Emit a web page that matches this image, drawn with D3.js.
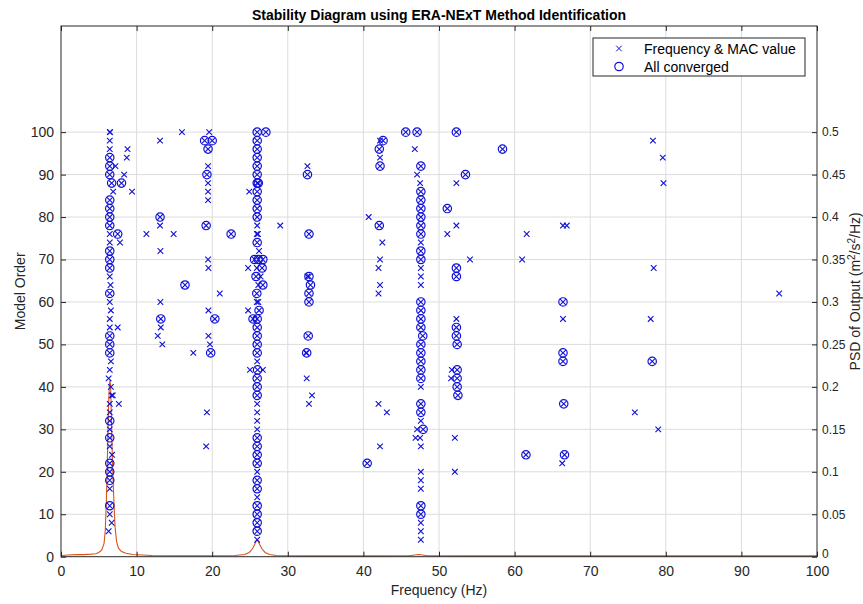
<!DOCTYPE html>
<html>
<head>
<meta charset="utf-8">
<script src="https://cdn.jsdelivr.net/npm/d3@7"></script>
<style>
  body { margin: 0; background: #fff; }
  text { font-family: "Liberation Sans", Arial, sans-serif; }
</style>
</head>
<body>
<div id="chart"></div>
<script>
// Chart text
const title = 'Stability Diagram using ERA-NExT Method Identification';
const xLabel = 'Frequency (Hz)';
const yLabel = 'Model Order';
const legendLabels = ['Frequency & MAC value', 'All converged'];

// Tick values
const xTicks = [0, 10, 20, 30, 40, 50, 60, 70, 80, 90, 100];
const orderTicks = [0, 10, 20, 30, 40, 50, 60, 70, 80, 90, 100];
const psdTicks = [0, 0.05, 0.1, 0.15, 0.2, 0.25, 0.3, 0.35, 0.4, 0.45, 0.5];

// Poles that only passed frequency & MAC check: [freq Hz, model order]
const macOnly = [
  [6.45, 100], [6.5, 100], [6.45, 98], [6.45, 96], [8.8, 96], [8.7, 94], [7.2, 92], [8.35, 90],
  [6.9, 86], [9.4, 86], [6.45, 76], [11.3, 76], [6.45, 74], [7.8, 74], [6.45, 66], [6.55, 64],
  [6.45, 60], [6.6, 58], [6.45, 56], [6.45, 54], [7.5, 54], [6.6, 46], [6.45, 44], [6.3, 42],
  [6.6, 40], [6.7, 38], [6.85, 38], [6.45, 36], [7.65, 36], [6.45, 34], [6.45, 30], [6.45, 26],
  [6.75, 24], [6.45, 16], [6.45, 10], [6.7, 8], [6.3, 6],
  [13.1, 98], [16.0, 100], [13.1, 78], [14.9, 76], [13.15, 72], [13.15, 60], [13.2, 54],
  [12.8, 52], [13.4, 50], [17.5, 48],
  [19.6, 100], [19.45, 92], [19.45, 88], [19.45, 86], [19.45, 84], [19.45, 70], [19.5, 68],
  [21.0, 62], [19.5, 58], [19.5, 52], [19.7, 50], [19.3, 34], [19.2, 26],
  [24.9, 86], [25.95, 78], [29.0, 78], [25.9, 76], [26.05, 76], [26.2, 72], [24.75, 68],
  [25.9, 68], [26.4, 66], [26.1, 64], [25.9, 60], [26.1, 60], [24.75, 58], [25.95, 46],
  [25.0, 44], [26.7, 44], [25.95, 36], [25.95, 34], [25.95, 32], [25.95, 30], [25.95, 20],
  [25.95, 14], [25.95, 4],
  [32.6, 92], [32.6, 66], [32.4, 48], [32.5, 42], [33.2, 38], [32.8, 36],
  [42.2, 98], [42.2, 94], [40.7, 80], [42.5, 74], [42.2, 70], [42.0, 68], [42.2, 64],
  [42.0, 62], [42.0, 36], [43.1, 34], [42.2, 26],
  [46.8, 96], [47.1, 90], [47.5, 88], [47.6, 74], [47.6, 68], [47.6, 66], [47.6, 64],
  [47.6, 40], [47.6, 32], [47.1, 30], [46.9, 28], [47.5, 28], [47.6, 26], [47.6, 20],
  [47.6, 18], [47.6, 16], [47.6, 8], [47.6, 6], [47.6, 4],
  [52.3, 88], [52.3, 78], [51.1, 76], [54.1, 70], [52.3, 56], [51.7, 44], [51.6, 42],
  [52.1, 28], [52.1, 20],
  [61.6, 76], [61.0, 70], [66.4, 78], [66.9, 78], [66.4, 56], [66.3, 22],
  [78.3, 98], [79.6, 94], [79.7, 88], [78.4, 68], [95.0, 62], [78.0, 56], [75.9, 34], [79.0, 30]
];

// Poles that passed all checks (circle, also drawn with x): [freq Hz, model order]
const converged = [
  [6.45, 94], [6.45, 92], [6.45, 90], [6.7, 88], [8.0, 88], [6.45, 84], [6.45, 82], [6.45, 80],
  [6.45, 78], [7.5, 76], [6.45, 72], [6.45, 70], [6.45, 68], [6.45, 62], [6.45, 52], [6.45, 50],
  [6.45, 48], [6.45, 32], [6.45, 28], [6.45, 22], [6.45, 20], [6.45, 18], [6.45, 12],
  [13.1, 80], [16.4, 64], [13.2, 56],
  [19.0, 98], [20.0, 98], [19.45, 96], [19.3, 90], [19.2, 78], [20.35, 56], [19.8, 48], [22.5, 76],
  [25.95, 100], [27.1, 100], [25.95, 98], [25.95, 96], [25.95, 94], [25.95, 92], [25.95, 90],
  [25.95, 88], [26.1, 88], [25.95, 86], [25.95, 84], [25.95, 82], [25.95, 80], [25.95, 74],
  [25.6, 70], [26.1, 70], [26.7, 70], [26.6, 68], [25.8, 66], [26.7, 64], [25.9, 62],
  [26.2, 58], [25.4, 56], [25.95, 56], [25.95, 54], [25.95, 52], [25.95, 50], [25.95, 48],
  [26.0, 44], [25.95, 42], [25.95, 40], [25.95, 38], [25.95, 28], [25.95, 26], [25.95, 24],
  [25.95, 22], [25.95, 18], [25.95, 16], [25.95, 12], [25.95, 10], [25.95, 8], [25.95, 6],
  [32.6, 90], [32.8, 76], [32.8, 66], [33.0, 64], [32.8, 62], [32.8, 60], [32.7, 52], [32.5, 48],
  [42.6, 98], [42.1, 96], [42.2, 92], [42.1, 78], [40.5, 22],
  [45.6, 100], [47.1, 100], [47.6, 92], [47.6, 86], [47.6, 84], [47.6, 82], [47.6, 80],
  [47.6, 78], [47.6, 76], [47.6, 72], [47.6, 70], [47.6, 60], [47.6, 58], [47.6, 56],
  [47.6, 54], [47.85, 52], [47.6, 50], [47.6, 48], [47.6, 46], [47.6, 44], [47.6, 42],
  [47.6, 36], [47.6, 34], [47.9, 30], [47.6, 12], [47.6, 10],
  [52.3, 100], [58.4, 96], [53.5, 90], [51.1, 82], [52.3, 68], [52.3, 66], [52.3, 54],
  [52.3, 52], [52.4, 50], [52.4, 44], [52.4, 42], [52.4, 40], [52.5, 38],
  [61.5, 24], [66.4, 60], [66.4, 48], [66.4, 46], [66.5, 36], [66.6, 24], [78.2, 46]
];

// PSD of output
const psdFreq = [0, 1, 2, 3, 4, 4.6, 5.0, 5.4, 5.7, 5.85, 6.0, 6.1, 6.2, 6.3, 6.4, 6.48, 6.56,
  6.65, 6.75, 6.85, 7.0, 7.15, 7.35, 7.6, 8.0, 8.6, 9.5, 12, 16, 20, 23, 24.3, 24.9, 25.3, 25.6,
  25.8, 25.95, 26.1, 26.3, 26.6, 27.0, 27.6, 28.5, 32, 40, 46, 47.3, 48.5, 55, 70, 85, 100];
const psdValue = [0.0015, 0.002, 0.0025, 0.0025, 0.003, 0.0035, 0.005, 0.008, 0.016, 0.03,
  0.065, 0.1, 0.14, 0.18, 0.202, 0.208, 0.2, 0.17, 0.13, 0.1, 0.065, 0.035, 0.018, 0.01, 0.006,
  0.004, 0.0025, 0.0015, 0.0012, 0.0012, 0.0015, 0.0025, 0.005, 0.009, 0.014, 0.018, 0.0195,
  0.018, 0.014, 0.009, 0.005, 0.0025, 0.0015, 0.001, 0.001, 0.0012, 0.0025, 0.0012, 0.001,
  0.001, 0.001, 0.001];

const width = 863;
const height = 604;
const margin = { top: 26, right: 46, bottom: 47.3, left: 61 };
const blue = '#1010d8';

const svg = d3.select('#chart').append('svg')
  .attr('width', width)
  .attr('height', height);

svg.append('rect').attr('width', width).attr('height', height).attr('fill', '#fff');

const xScale = d3.scaleLinear().domain([0, 100]).range([margin.left, width - margin.right]);
const yScale = d3.scaleLinear().domain([0, 125]).range([height - margin.bottom, margin.top]);
const psdScale = d3.scaleLinear().domain([0, 0.625]).range([height - margin.bottom, margin.top]);

const x0 = margin.left, x1 = width - margin.right;
const y0 = height - margin.bottom, y1 = margin.top;

// grid
svg.append('g').selectAll('line.vg')
  .data(xTicks.slice(1, -1)).enter().append('line')
  .attr('x1', d => xScale(d)).attr('x2', d => xScale(d))
  .attr('y1', y0).attr('y2', y1)
  .attr('stroke', '#dcdcdc').attr('stroke-width', 1);
svg.append('g').selectAll('line.hg')
  .data(orderTicks.slice(1)).enter().append('line')
  .attr('x1', x0).attr('x2', x1)
  .attr('y1', d => yScale(d)).attr('y2', d => yScale(d))
  .attr('stroke', '#dcdcdc').attr('stroke-width', 1);

// PSD curve (right axis)
const line = d3.line()
  .x((d, i) => xScale(psdFreq[i]))
  .y(d => psdScale(d));
svg.append('path')
  .datum(psdValue)
  .attr('d', line)
  .attr('fill', 'none')
  .attr('stroke', '#d95319')
  .attr('stroke-width', 1.1);

// markers
const xs = 2.8;
const xMarks = macOnly.concat(converged);
svg.append('g').selectAll('path.xm')
  .data(xMarks).enter().append('path')
  .attr('d', d => {
    const cx = xScale(d[0]), cy = yScale(d[1]);
    return `M${cx - xs},${cy - xs}L${cx + xs},${cy + xs}M${cx - xs},${cy + xs}L${cx + xs},${cy - xs}`;
  })
  .attr('stroke', blue).attr('stroke-width', 1.1).attr('fill', 'none');
svg.append('g').selectAll('circle')
  .data(converged).enter().append('circle')
  .attr('cx', d => xScale(d[0])).attr('cy', d => yScale(d[1]))
  .attr('r', 4.2)
  .attr('stroke', blue).attr('stroke-width', 1.2).attr('fill', 'none');

// axes
const fontSize = '14px';
const xAxis = svg.append('g')
  .attr('transform', `translate(0,${y0})`)
  .call(d3.axisBottom(xScale).tickValues(xTicks).tickSize(-5).tickPadding(9).tickFormat(d3.format('d')));
const xTop = svg.append('g')
  .attr('transform', `translate(0,${y1})`)
  .call(d3.axisTop(xScale).tickValues(xTicks).tickSize(-5).tickFormat(''));
const yAxis = svg.append('g')
  .attr('transform', `translate(${x0},0)`)
  .call(d3.axisLeft(yScale).tickValues(orderTicks).tickSize(-5).tickPadding(7).tickFormat(d3.format('d')));
const yRight = svg.append('g')
  .attr('transform', `translate(${x1},0)`)
  .call(d3.axisRight(psdScale).tickValues(psdTicks).tickSize(-5).tickPadding(5).tickFormat(d => d === 0 ? '0' : d3.format('~g')(d)));

[xAxis, xTop, yAxis, yRight].forEach(g => {
  g.select('.domain').remove();
  g.selectAll('line').attr('stroke', '#262626');
  g.selectAll('text').attr('fill', '#262626').style('font-size', fontSize)
    .style('font-family', '"Liberation Sans", Arial, sans-serif');
});
yRight.selectAll('text').style('font-size', '12px');
yRight.selectAll('.tick').filter(d => d === 0).select('text').attr('dy', '0.1em');

// box
svg.append('rect')
  .attr('x', x0).attr('y', y1)
  .attr('width', x1 - x0).attr('height', y0 - y1)
  .attr('fill', 'none').attr('stroke', '#262626').attr('stroke-width', 1);

// title and labels
svg.append('text')
  .attr('x', (x0 + x1) / 2).attr('y', 19.5)
  .attr('text-anchor', 'middle')
  .style('font-size', fontSize).style('font-weight', 'bold')
  .attr('fill', '#000')
  .text(title);

svg.append('text')
  .attr('x', (x0 + x1) / 2).attr('y', 595)
  .attr('text-anchor', 'middle')
  .style('font-size', fontSize).attr('fill', '#262626')
  .text(xLabel);

svg.append('text')
  .attr('transform', `translate(25,${(y0 + y1) / 2}) rotate(-90)`)
  .attr('text-anchor', 'middle')
  .style('font-size', fontSize).attr('fill', '#262626')
  .text(yLabel);

const rl = svg.append('text')
  .attr('transform', `translate(860,${(y0 + y1) / 2}) rotate(-90)`)
  .attr('text-anchor', 'middle')
  .style('font-size', fontSize).attr('fill', '#262626');
rl.append('tspan').text('PSD of Output (m');
rl.append('tspan').attr('dy', -5).style('font-size', '10px').text('2');
rl.append('tspan').attr('dy', 5).text('/s');
rl.append('tspan').attr('dy', -5).style('font-size', '10px').text('2');
rl.append('tspan').attr('dy', 5).text('/Hz)');

// legend
const lg = svg.append('g');
lg.append('rect')
  .attr('x', 593).attr('y', 38).attr('width', 212).attr('height', 38)
  .attr('fill', '#fff').attr('stroke', '#262626').attr('stroke-width', 1);
const ly = [48.5, 66.5];
lg.append('path')
  .attr('d', `M${619 - xs},${ly[0] - xs}L${619 + xs},${ly[0] + xs}M${619 - xs},${ly[0] + xs}L${619 + xs},${ly[0] - xs}`)
  .attr('stroke', blue).attr('fill', 'none');
lg.append('circle').attr('cx', 619).attr('cy', ly[1]).attr('r', 4.2)
  .attr('stroke', blue).attr('stroke-width', 1.2).attr('fill', 'none');
lg.selectAll('text.lt').data(legendLabels).enter().append('text')
  .attr('x', 644).attr('y', (d, i) => ly[i] + 5)
  .style('font-size', fontSize).attr('fill', '#000')
  .text(d => d);
</script>
</body>
</html>
